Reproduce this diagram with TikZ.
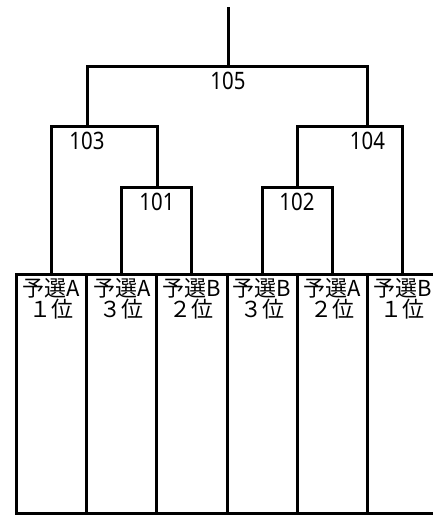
\documentclass[tikz,border=0pt]{standalone}
\usepackage{fontspec}
\newfontfamily\jpfont{Noto Sans CJK JP}
\newfontfamily\numfont[FakeStretch=0.85]{Noto Sans}
\usetikzlibrary{calc}

\begin{document}
\begin{tikzpicture}
        [
        x=1pt, y=-1pt,
        line width=3pt,
        every node/.style={font=\jpfont\fontsize{22}{21}\selectfont},
        cell/.style={draw,anchor=north,minimum width=70.2pt,minimum height=239pt,inner sep=0pt},
        celltext/.style={anchor=north,align=center,inner sep=0pt,yshift=-4pt},
        num/.style={anchor=north,inner sep=0pt,yshift=-5pt,font=\numfont\fontsize{24}{24}\selectfont}
        ]
        \useasboundingbox (0,0) rectangle (432,515);

        \node[cell,label={[celltext]north:予選A\\１位}] (a1) at (51.5,273) {};
        \node[cell,label={[celltext]north:予選A\\３位}] (a3) at ($(a1.north)+(70.2,0)$) {};
        \node[cell,label={[celltext]north:予選B\\２位}] (b2) at ($(a3.north)+(70.2,0)$) {};
        \node[cell,label={[celltext]north:予選B\\３位}] (b3) at ($(b2.north)+(70.2,0)$) {};
        \node[cell,label={[celltext]north:予選A\\２位}] (a2) at ($(b3.north)+(70.2,0)$) {};
        \node[cell,label={[celltext]north:予選B\\１位}] (b1) at ($(a2.north)+(70.2,0)$) {};

        \coordinate (j101) at (157,187);
        \coordinate (j102) at (297,187);
        \coordinate (j103) at (87,126);
        \coordinate (j104) at (367.5,126);
        \coordinate (j105) at (228,66);
        \coordinate (top) at (228,7);

        \node[num] (n101) at (j101) {101};
        \node[num] (n102) at (j102) {102};
        \node[num] (n103) at (j103) {103};
        \node[num] (n104) at (j104) {104};
        \node[num] (n105) at (j105) {105};

        \draw (a3.north) |- (j101) -| (b2.north);
        \draw (b3.north) |- (j102) -| (a2.north);
        \draw (a1.north) |- (j103) -| (j101);
        \draw (j102) |- (j104) -| (b1.north);
        \draw (j103) |- (j105) -| (j104);
        \draw (j105) -- (top);
    \end{tikzpicture}
\end{document}
